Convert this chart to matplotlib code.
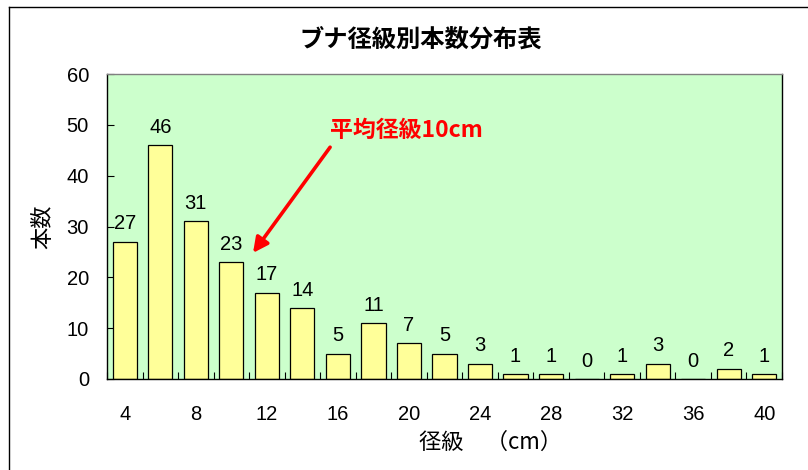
import matplotlib
matplotlib.use("Agg")
import matplotlib.pyplot as plt
from matplotlib.lines import Line2D
import numpy as np

# data
categories = [4, 6, 8, 10, 12, 14, 16, 18, 20, 22, 24, 26, 28, 30, 32, 34, 36, 38, 40]
counts = [27, 46, 31, 23, 17, 14, 5, 11, 7, 5, 3, 1, 1, 0, 1, 3, 0, 2, 1]
yticks = [0, 10, 20, 30, 40, 50, 60]
title = "ブナ径級別本数分布表"
xlabel = "径級　（cm）"
ylabel = "本数"
note = "平均径級10cm"
mean_class = 10

plt.rcParams['font.family'] = ['Liberation Sans', 'Noto Sans CJK JP', 'DejaVu Sans']
CJK = ['Noto Sans CJK JP', 'DejaVu Sans']

W, H = 808, 470
fig = plt.figure(figsize=(W / 100, H / 100), dpi=100)
ax = fig.add_axes([107 / W, 1 - 379 / H, (782 - 107) / W, (379 - 74) / H])
ax.set_facecolor('#CCFFCC')

x = np.arange(len(categories))
ax.bar(x, counts, width=0.68, color='#FFFF99', edgecolor='black', linewidth=0.9, zorder=2)

for xi, v in zip(x, counts):
    ax.annotate(str(v), (xi, v), xytext=(0, 6), textcoords='offset points',
                ha='center', va='bottom', fontsize=14.5, color='black')

ax.set_xlim(-0.5, len(categories) - 0.5)
ax.set_ylim(0, 60)
ax.set_yticks(yticks)
ax.set_yticklabels([str(t) for t in yticks], fontsize=14.5)
ax.tick_params(axis='y', direction='in', length=5, width=0.8, pad=13)

# major ticks at category boundaries, labels at every other category center
ax.set_xticks(np.arange(-0.5, len(categories), 1.0))
ax.set_xticklabels([])
ax.tick_params(axis='x', which='major', direction='in', length=5, width=0.8)
ax.set_xticks(x[::2], minor=True)
ax.set_xticklabels([str(c) for c in categories[::2]], minor=True, fontsize=14.5)
ax.tick_params(axis='x', which='minor', length=0, pad=19)

for s in ax.spines.values():
    s.set_linewidth(1.0)
    s.set_color('black')
ax.spines['top'].set_color('#808080')

ax.set_xlabel(xlabel, family=CJK, fontsize=16)
ax.xaxis.set_label_coords((491 - 107) / (782 - 107), -(442 - 379) / (379 - 74))
ax.xaxis.label.set_va('center')
ax.set_ylabel(ylabel, family=CJK, fontsize=16)
ax.yaxis.set_label_coords(-(107 - 43) / (782 - 107), 0.5)
ax.yaxis.label.set_va('center')

fig.text(421 / W, 1 - 40 / H, title, family=CJK, fontsize=17.5, fontweight='bold',
         ha='center', va='center')

# annotation for mean diameter class
mi = categories.index(mean_class)
ax.annotate('', xy=(mi + 0.61, 24.8), xytext=(mi + 2.78, 45.6),
            arrowprops=dict(arrowstyle='-|>,head_length=0.9,head_width=0.45',
                            color='#FF0000', lw=2.6, shrinkA=0, shrinkB=0))
ax.text(mi + 2.78, 48.8, note, family=CJK, fontsize=16.5, fontweight='bold',
        color='#FF0000', ha='left', va='center')

# outer chart frame (extends beyond the image to the right and bottom)
fig.add_artist(Line2D([9 / W, 9 / W], [-0.1, 1 - 7 / H], transform=fig.transFigure,
                      color='black', lw=1.0))
fig.add_artist(Line2D([9 / W, 1.1], [1 - 7 / H, 1 - 7 / H], transform=fig.transFigure,
                      color='black', lw=1.0))

fig.savefig('out.png', dpi=100)
